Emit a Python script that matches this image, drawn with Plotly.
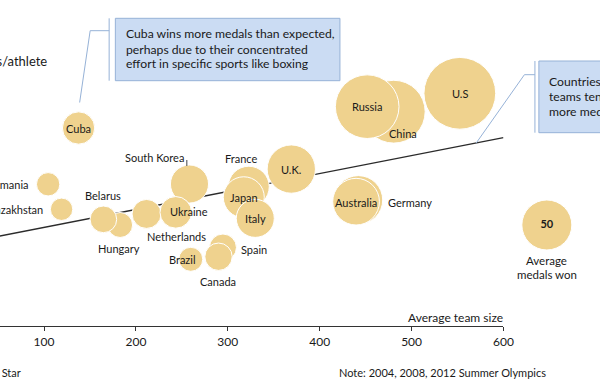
import plotly.graph_objects as go

# ---------------- data ----------------
countries = ["China", "Russia", "U.S", "Germany", "Australia", "France", "Japan", "Italy",
             "U.K.", "Spain", "Canada", "Brazil", "South Korea", "Netherlands", "Ukraine",
             "Hungary", "Belarus", "Kazakhstan", "Romania", "Cuba"]
team_size = [480.6, 451.7, 552.5, 442.1, 439.6, 322.8, 317.4, 329.9,
             369.1, 294.7, 289.9, 259.7, 258.3, 211.6, 243.4,
             182.8, 164.6, 119.1, 104.5, 137.6]
medals_per_athlete = [0.1748, 0.1789, 0.1898, 0.1028, 0.1014, 0.1136, 0.1050, 0.0878,
                      0.1280, 0.0640, 0.0565, 0.0544, 0.1158, 0.0914, 0.0927,
                      0.0824, 0.0870, 0.0952, 0.1156, 0.1615]
avg_medals = [79, 81, 103, 47.4, 43.6, 33.6, 33.6, 28.9,
              46.6, 14.6, 15.0, 11.5, 29, 16.8, 20,
              12.5, 14.2, 10, 10.9, 20.9]

trend_x = [0, 600]
trend_intercept = 0.0658
trend_slope = 0.0001464

legend_medals = 50
legend_x = 647.2
legend_y = 0.0824

x_ticks = [100, 200, 300, 400, 500, 600]

# ---------------- styling ----------------
FONT = "Lato, 'Open Sans', sans-serif"
BUBBLE = "rgb(239,210,142)"
TXT = "#1a1a1a"
SIZEREF = 0.04

W, H = 600, 388
MB = 62
PH = H - MB
AXIS_END_PX = 512
X_LEFT = 52.1
PX_PER_UNIT = AXIS_END_PX / (600 - X_LEFT)


def px_x(p):
    return p / W


def px_y(p):
    return (PH - p) / PH


fig = go.Figure()

# trend line
fig.add_trace(go.Scatter(
    x=trend_x, y=[trend_intercept + trend_slope * v for v in trend_x],
    mode="lines", line=dict(color="#2b2b2b", width=1.4),
    hoverinfo="skip", showlegend=False))

# bubbles
fig.add_trace(go.Scatter(
    x=team_size, y=medals_per_athlete, mode="markers",
    marker=dict(size=avg_medals, sizemode="area", sizeref=SIZEREF,
                color=BUBBLE, opacity=1, line=dict(color="white", width=1)),
    text=countries, showlegend=False, cliponaxis=False))

# legend bubble (on a hidden full-width x axis with the same scale)
fig.add_trace(go.Scatter(
    x=[legend_x], y=[legend_y], xaxis="x2", yaxis="y", mode="markers+text",
    marker=dict(size=[legend_medals], sizemode="area", sizeref=SIZEREF, opacity=1,
                color=BUBBLE, line=dict(color="white", width=1)),
    text=["<b>%d</b>" % legend_medals], textposition="middle center",
    textfont=dict(family=FONT, size=11, color=TXT),
    showlegend=False, cliponaxis=False))

# label offsets (px): (xshift, yshift, xanchor)
label_off = {
    "Cuba": (0, 0, "center"),
    "Romania": (-17, 0, "right"),
    "Kazakhstan": (-17, 0, "right"),
    "Belarus": (0, 24, "center"),
    "Hungary": (-1, -24, "center"),
    "Netherlands": (30, -23, "center"),
    "Ukraine": (13, 1, "center"),
    "South Korea": (-35, 27, "center"),
    "France": (-8, 28, "center"),
    "U.K.": (0, 0, "center"),
    "Japan": (0, 0, "center"),
    "Italy": (0, 0, "center"),
    "Brazil": (-8, 0, "center"),
    "Spain": (31, -2, "center"),
    "Canada": (-1, -25, "center"),
    "Australia": (0, -1, "center"),
    "Germany": (28, -3, "left"),
    "Russia": (0, 0, "center"),
    "China": (9, -22, "center"),
    "U.S": (0, 0, "center"),
}
annotations = []
for c, xv, yv in zip(countries, team_size, medals_per_athlete):
    dx, dy, anc = label_off[c]
    annotations.append(dict(x=xv, y=yv, xref="x", yref="y", text=c, showarrow=False,
                            xshift=dx, yshift=dy, xanchor=anc, yanchor="middle",
                            font=dict(family=FONT, size=11, color=TXT)))

# legend caption
for t, py in [("Average", 260), ("medals won", 274.5)]:
    annotations.append(dict(x=px_x(556), y=px_y(py), xref="paper", yref="paper", text=t,
                            showarrow=False, xanchor="center", yanchor="middle",
                            font=dict(family=FONT, size=11.5, color=TXT)))

# axis titles & notes
annotations.append(dict(x=px_x(50), y=px_y(60.5), xref="paper", yref="paper",
                        text="Medals/athlete", showarrow=False, xanchor="right", yanchor="middle",
                        font=dict(family=FONT, size=13, color=TXT)))
annotations.append(dict(x=px_x(514), y=px_y(317), xref="paper", yref="paper",
                        text="Average team size", showarrow=False, xanchor="right", yanchor="middle",
                        font=dict(family=FONT, size=12, color=TXT)))
annotations.append(dict(x=px_x(557), y=px_y(372), xref="paper", yref="paper",
                        text="Note: 2004, 2008, 2012 Summer Olympics", showarrow=False,
                        xanchor="right", yanchor="middle",
                        font=dict(family=FONT, size=11, color=TXT)))
annotations.append(dict(x=px_x(23), y=px_y(372), xref="paper", yref="paper",
                        text="Source: Go Star", showarrow=False,
                        xanchor="right", yanchor="middle",
                        font=dict(family=FONT, size=11, color=TXT)))

# callout texts
box1_lines = ["Cuba wins more medals than expected,",
              "perhaps due to their concentrated",
              "effort in specific sports like boxing"]
for t, py in zip(box1_lines, [34, 49.3, 64]):
    annotations.append(dict(x=px_x(126), y=px_y(py), xref="paper", yref="paper", text=t,
                            showarrow=False, xanchor="left", yanchor="middle",
                            font=dict(family=FONT, size=12.2, color=TXT)))
box2_lines = ["Countries with bigger", "teams tend to win", "more medals per athlete"]
for t, py in zip(box2_lines, [81, 96.7, 111.7]):
    annotations.append(dict(x=px_x(556.5), y=px_y(py), xref="paper", yref="paper", text=t,
                            showarrow=False, xanchor="left", yanchor="middle",
                            font=dict(family=FONT, size=12.2, color=TXT)))

BOX_FILL = "rgb(203,220,243)"
BOX_LINE = "rgb(150,178,215)"
CALLOUT = "rgb(150,178,215)"
shapes = [
    dict(type="rect", xref="paper", yref="paper", x0=px_x(117.3), x1=px_x(345.7),
         y0=px_y(80.7), y1=px_y(18.3), fillcolor=BOX_FILL, line=dict(color=BOX_LINE, width=1),
         layer="below"),
    dict(type="line", xref="paper", yref="paper", x0=px_x(111), x1=px_x(111),
         y0=px_y(18.3), y1=px_y(80.7), line=dict(color=CALLOUT, width=1)),
    dict(type="line", xref="paper", yref="paper", x0=px_x(91.7), x1=px_x(111),
         y0=px_y(30.7), y1=px_y(30.7), line=dict(color=CALLOUT, width=1)),
    dict(type="line", xref="paper", yref="paper", x0=px_x(91.7), x1=px_x(81),
         y0=px_y(30.7), y1=px_y(102.5), line=dict(color=CALLOUT, width=1)),
    dict(type="rect", xref="paper", yref="paper", x0=px_x(548), x1=px_x(640),
         y0=px_y(132.7), y1=px_y(61), fillcolor=BOX_FILL, line=dict(color=BOX_LINE, width=1),
         layer="below"),
    dict(type="line", xref="paper", yref="paper", x0=px_x(544), x1=px_x(544),
         y0=px_y(61), y1=px_y(132.7), line=dict(color=CALLOUT, width=1)),
    dict(type="line", xref="paper", yref="paper", x0=px_x(533.3), x1=px_x(544),
         y0=px_y(74.7), y1=px_y(74.7), line=dict(color=CALLOUT, width=1)),
    dict(type="line", xref="paper", yref="paper", x0=px_x(533.3), x1=px_x(484.3),
         y0=px_y(74.7), y1=px_y(143), line=dict(color=CALLOUT, width=1)),
    dict(type="line", xref="paper", yref="paper", x0=px_x(190), x1=px_x(190),
         y0=px_y(160), y1=px_y(166), line=dict(color="#444", width=1)),
]

fig.update_layout(
    width=W, height=H, margin=dict(l=0, r=0, t=0, b=MB),
    paper_bgcolor="white", plot_bgcolor="rgba(0,0,0,0)",
    xaxis=dict(domain=[0, AXIS_END_PX / W], range=[X_LEFT, 600], tickvals=x_ticks,
               showgrid=False, zeroline=False,
               showline=True, linecolor="#333", linewidth=1.3, ticks="outside",
               ticklen=4, tickcolor="#333", tickfont=dict(family=FONT, size=12, color=TXT)),
    xaxis2=dict(domain=[0, 1], range=[X_LEFT, X_LEFT + W / PX_PER_UNIT], anchor="y",
                visible=False, showgrid=False, zeroline=False),
    yaxis=dict(range=[0, PH / 1226], showgrid=False, zeroline=False, showline=False,
               showticklabels=False, ticks=""),
    annotations=annotations, shapes=shapes, showlegend=False,
)

fig.write_html(
    "out.html",
    config={"displayModeBar": False},
    post_script=("document.documentElement.style.overflow='hidden';"
                 "document.body.style.margin='0';"
                 "document.body.style.overflow='hidden';"),
)
